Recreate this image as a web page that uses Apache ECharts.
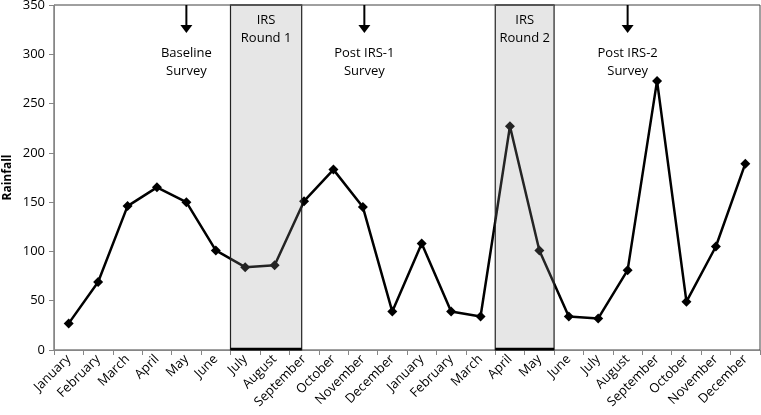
<!DOCTYPE html>
<html>
<head>
<meta charset="utf-8">
<script src="https://cdn.jsdelivr.net/npm/echarts@6/dist/echarts.min.js"></script>
<style>
html,body{margin:0;padding:0;background:#fff;}
#chart{width:761px;height:415px;}
</style>
</head>
<body>
<div id="chart"></div>
<script>
const months = ["January","February","March","April","May","June","July","August","September","October","November","December",
                "January","February","March","April","May","June","July","August","September","October","November","December"];
const rainfall = [27, 69, 146, 165, 150, 101, 84, 86, 151, 183, 145, 39,
                  108, 39, 34, 227, 101, 34, 32, 81, 273, 49, 105, 189];
const yTicks = {min: 0, max: 350, interval: 50};
// IRS rounds: start/end in category units along the month axis
const irsStart = [6, 15];
const irsEnd = [8.42, 17];
const irsLabels = ["IRS\nRound 1", "IRS\nRound 2"];
// Survey arrows: position in category units
const surveyPos = [4.5, 10.55, 19.5];
const surveyLabels = ["Baseline\nSurvey", "Post IRS-1\nSurvey", "Post IRS-2\nSurvey"];

const FONT = "'Open Sans', sans-serif";
const chart = echarts.init(document.getElementById('chart'), null, {renderer: 'canvas'});

const irsData = irsStart.map((s, i) => [s, irsEnd[i], irsLabels[i]]);
const surveyData = surveyPos.map((p, i) => [p, surveyLabels[i]]);

chart.setOption({
  animation: false,
  grid: {left: 54, right: 1, top: 5, bottom: 65, show: true, borderColor: '#404040', borderWidth: 1, backgroundColor: '#fff',
         containLabel: false, outerBoundsMode: 'none'},
  xAxis: [{
    type: 'category',
    data: months,
    boundaryGap: true,
    axisLine: {lineStyle: {color: '#868686', width: 1}},
    axisTick: {show: true, alignWithLabel: false, length: 5, lineStyle: {color: '#868686'}},
    axisLabel: {rotate: 45, color: '#000', fontFamily: FONT, fontSize: 13, margin: 7, interval: 0},
    splitLine: {show: false}
  }, {
    type: 'value', min: 0, max: 24, show: false
  }],
  yAxis: {
    type: 'value',
    min: yTicks.min, max: yTicks.max, interval: yTicks.interval,
    name: 'Rainfall',
    nameLocation: 'middle',
    nameGap: 40,
    nameMoveOverlap: false,
    nameTextStyle: {fontFamily: FONT, fontSize: 12, fontWeight: 'bold', color: '#000'},
    axisLine: {show: true, lineStyle: {color: '#868686'}},
    axisTick: {show: true, length: 5, lineStyle: {color: '#868686'}},
    axisLabel: {color: '#000', fontFamily: FONT, fontSize: 13, margin: 9},
    splitLine: {show: false}
  },
  series: [{
    type: 'line',
    data: rainfall,
    z: 2,
    lineStyle: {color: '#000', width: 2.5},
    itemStyle: {color: '#000'},
    symbol: 'diamond',
    symbolSize: 10,
    showAllSymbol: true
  }, {
    type: 'custom',
    xAxisIndex: 1,
    yAxisIndex: 0,
    z: 5,
    data: irsData,
    renderItem: function (params, api) {
      const p0 = api.coord([api.value(0), yTicks.max]);
      const p1 = api.coord([api.value(1), yTicks.min]);
      const label = irsLabels[params.dataIndex];
      return {
        type: 'group',
        children: [{
          type: 'rect',
          shape: {x: p0[0], y: p0[1], width: p1[0] - p0[0], height: p1[1] - p0[1]},
          style: {fill: 'rgba(150,150,150,0.24)', stroke: '#222', lineWidth: 1.2}
        }, {
          type: 'line',
          shape: {x1: p0[0], y1: p0[1], x2: p1[0], y2: p0[1]},
          style: {stroke: '#555', lineWidth: 2}
        }, {
          type: 'line',
          shape: {x1: p0[0], y1: p1[1] - 1, x2: p1[0], y2: p1[1] - 1},
          style: {stroke: '#000', lineWidth: 2.5}
        }, {
          type: 'text',
          style: {
            text: label, x: (p0[0] + p1[0]) / 2, y: p0[1] + 6,
            align: 'center', verticalAlign: 'top',
            font: '13px ' + FONT, fill: '#000', lineHeight: 18
          }
        }]
      };
    }
  }, {
    type: 'custom',
    xAxisIndex: 1,
    yAxisIndex: 0,
    z: 6,
    data: surveyData,
    renderItem: function (params, api) {
      const p = api.coord([api.value(0), yTicks.max]);
      const label = surveyLabels[params.dataIndex];
      return {
        type: 'group',
        children: [{
          type: 'line',
          shape: {x1: p[0], y1: p[1], x2: p[0], y2: p[1] + 21},
          style: {stroke: '#000', lineWidth: 2}
        }, {
          type: 'polygon',
          shape: {points: [[p[0] - 6, p[1] + 20], [p[0] + 6, p[1] + 20], [p[0], p[1] + 28]]},
          style: {fill: '#000'}
        }, {
          type: 'text',
          style: {
            text: label, x: p[0], y: p[1] + 39,
            align: 'center', verticalAlign: 'top',
            font: '13px ' + FONT, fill: '#000', lineHeight: 18
          }
        }]
      };
    }
  }]
});
</script>
</body>
</html>
